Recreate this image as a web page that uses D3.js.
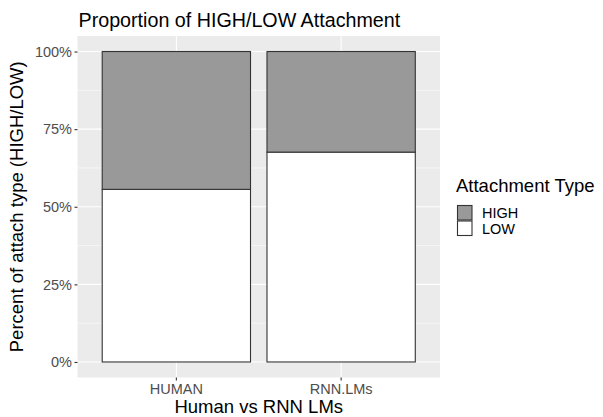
<!DOCTYPE html>
<html>
<head>
<meta charset="utf-8">
<script src="https://cdn.jsdelivr.net/npm/d3@7"></script>
<style>
  body { margin: 0; background: #fff; }
  text { font-family: "Liberation Sans", Arial, sans-serif; }
</style>
</head>
<body>
<div id="chart"></div>
<script>
// data: share of LOW attachment per group, HIGH is the rest
const groups = ['HUMAN', 'RNN.LMs'];
const lowShare = [0.556, 0.676];
const types = ['HIGH', 'LOW'];
const typeFill = ['#999999', '#ffffff'];
const yTicks = [0, 0.25, 0.5, 0.75, 1];

const [width, height] = [603, 417];
const panel = { left: 77.5, right: 440, top: 36, bottom: 377.5 };

const svg = d3.select('#chart')
    .append('svg')
    .attr('width', width)
    .attr('height', height);

// scales, ggplot style expansion (0.6 of a step at each side)
const x = d3.scaleBand()
    .domain(groups)
    .range([panel.left, panel.right])
    .paddingInner(0.1)
    .paddingOuter(0.15);

const y = d3.scaleLinear()
    .domain([-0.05, 1.05])
    .range([panel.bottom, panel.top]);

// panel background + grid
svg.append('rect')
    .attr('x', panel.left)
    .attr('y', panel.top)
    .attr('width', panel.right - panel.left)
    .attr('height', panel.bottom - panel.top)
    .attr('fill', '#ebebeb');

const minor = [0.125, 0.375, 0.625, 0.875];
svg.selectAll('.minor')
    .data(minor)
    .join('line')
    .attr('x1', panel.left).attr('x2', panel.right)
    .attr('y1', (d) => y(d)).attr('y2', (d) => y(d))
    .attr('stroke', '#fff').attr('stroke-width', 0.55);

svg.selectAll('.major')
    .data(yTicks)
    .join('line')
    .attr('x1', panel.left).attr('x2', panel.right)
    .attr('y1', (d) => y(d)).attr('y2', (d) => y(d))
    .attr('stroke', '#fff').attr('stroke-width', 1.1);

svg.selectAll('.vgrid')
    .data(groups)
    .join('line')
    .attr('x1', (d) => x(d) + x.bandwidth() / 2)
    .attr('x2', (d) => x(d) + x.bandwidth() / 2)
    .attr('y1', panel.top).attr('y2', panel.bottom)
    .attr('stroke', '#fff').attr('stroke-width', 1.1);

// stacked bars: LOW at bottom, HIGH on top
const stacks = groups.map((g, i) => [
    { group: g, type: 'LOW', y0: 0, y1: lowShare[i] },
    { group: g, type: 'HIGH', y0: lowShare[i], y1: 1 }
]).flat();

svg.selectAll('.bar')
    .data(stacks)
    .join('rect')
    .attr('x', (d) => x(d.group))
    .attr('width', x.bandwidth())
    .attr('y', (d) => y(d.y1))
    .attr('height', (d) => y(d.y0) - y(d.y1))
    .attr('fill', (d) => typeFill[types.indexOf(d.type)])
    .attr('stroke', '#333333')
    .attr('stroke-width', 1.1);

// axes
const yAxis = d3.axisLeft(y)
    .tickValues(yTicks)
    .tickSize(3)
    .tickPadding(2.5)
    .tickFormat(d3.format('.0%'));

const gy = svg.append('g')
    .attr('transform', `translate(${panel.left},0)`)
    .call(yAxis);
gy.select('.domain').remove();
gy.selectAll('line').attr('stroke', '#333333').attr('stroke-width', 1.1);
gy.selectAll('text')
    .attr('fill', '#4d4d4d')
    .style('font-size', '14.5px');

const xAxis = d3.axisBottom(x)
    .tickSize(3)
    .tickPadding(3);

const gx = svg.append('g')
    .attr('transform', `translate(0,${panel.bottom})`)
    .call(xAxis);
gx.select('.domain').remove();
gx.selectAll('line').attr('stroke', '#333333').attr('stroke-width', 1.1);
gx.selectAll('text')
    .attr('fill', '#4d4d4d')
    .style('font-size', '14.5px');

// titles
svg.append('text')
    .attr('x', panel.left + 1)
    .attr('y', 27)
    .attr('fill', '#000')
    .style('font-size', '19.7px')
    .text('Proportion of HIGH/LOW Attachment');

svg.append('text')
    .attr('x', (panel.left + panel.right) / 2)
    .attr('y', 413)
    .attr('text-anchor', 'middle')
    .attr('fill', '#000')
    .style('font-size', '18.5px')
    .text('Human vs RNN LMs');

svg.append('text')
    .attr('transform', `translate(23,${(panel.top + panel.bottom) / 2}) rotate(-90)`)
    .attr('text-anchor', 'middle')
    .attr('fill', '#000')
    .style('font-size', '18.5px')
    .text('Percent of attach type (HIGH/LOW)');

// legend
const legend = svg.append('g')
    .attr('transform', 'translate(457,0)');

legend.append('text')
    .attr('x', -1)
    .attr('y', 192)
    .attr('fill', '#000')
    .style('font-size', '18.5px')
    .text('Attachment Type');

const key = legend.selectAll('.key')
    .data(types)
    .join('g')
    .attr('transform', (d, i) => `translate(0,${205 + i * 15.5})`);

key.append('rect')
    .attr('x', 0.5)
    .attr('y', 0.5)
    .attr('width', 14.5)
    .attr('height', 14.5)
    .attr('fill', (d, i) => typeFill[i])
    .attr('stroke', '#333333')
    .attr('stroke-width', 1.1);

key.append('text')
    .attr('x', 25)
    .attr('y', 13)
    .attr('fill', '#000')
    .style('font-size', '14.5px')
    .text((d) => d);
</script>
</body>
</html>
